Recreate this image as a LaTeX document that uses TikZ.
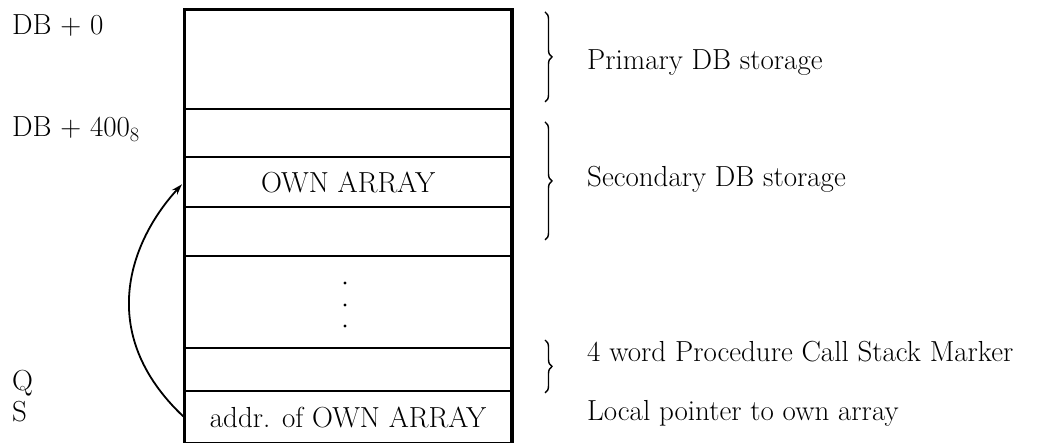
\documentclass[tikz,border=0pt]{standalone}
\usepackage{fontspec}
\usetikzlibrary{positioning,arrows.meta,decorations.pathreplacing}

\begin{document}
\begin{tikzpicture}[
  x=1pt, y=1pt,
  every node/.style={font=\fontsize{29}{33}\selectfont},
  cell/.style={draw, line width=2.2pt, minimum width=326pt, anchor=north west, inner sep=0pt},
  lbl/.style={anchor=base west, inner sep=0pt},
  brc/.style={decorate, decoration={brace, amplitude=7pt}, line width=1.4pt},
  ptr/.style={line width=1.8pt, -{Stealth[length=11pt,width=7pt]}, shorten >=3pt, shorten <=1pt}
]
  \useasboundingbox (0,0) rectangle (1045,443);

  % stack rows
  \node[cell, minimum height=99pt] (prim) at (184,434) {};
  \node[cell, minimum height=48pt] (sec1) at (184,335) {};
  \node[cell, minimum height=50pt] (own)  at (184,287) {OWN ARRAY};
  \node[cell, minimum height=49pt] (sec3) at (184,237) {};
  \node[cell, minimum height=92pt] (mid)  at (184,188) {};
  \node[cell, minimum height=43pt] (q)    at (184,96)  {};
  \node[cell, minimum height=52pt] (s)    at (184,53)  {addr. of OWN ARRAY};
  \draw[line width=2.8pt] (prim.north west) rectangle (s.south east);

  \foreach \y in {160,138,117}
    \fill (345,\y) circle (1.6pt);

  % left labels
  \node[lbl] (db0)   at (12,408) {DB + 0};
  \node[lbl] (db400) at (12,306) {DB + 400\textsubscript{8}};
  \node[lbl] (ql)    at (12,52)  {Q};
  \node[lbl] (sl)    at (12,21)  {S};

  % right braces and labels
  \draw[brc] (545,431) -- (545,341);
  \draw[brc] (545,321) -- (545,203);
  \draw[brc] (545,103) -- (545,50);
  \node[lbl] (primtxt) at (587,373) {Primary DB storage};
  \node[lbl] (sectxt)  at (587,256) {Secondary DB storage};
  \node[lbl] (pcsm)    at (587,81)  {4 word Procedure Call Stack Marker};
  \node[lbl] (lptr)    at (587,22)  {Local pointer to own array};

  \draw[ptr] (s.west) .. controls (95,110) and (130,202) .. (own.west);
\end{tikzpicture}
\end{document}
